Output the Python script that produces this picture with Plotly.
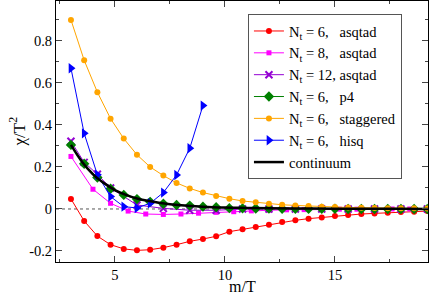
import plotly.graph_objects as go

# ---- data ----
x_nt6 = [3.0, 3.6, 4.2, 4.8, 5.4, 6.0, 6.6, 7.2, 7.8, 8.4, 9.0, 9.6, 10.2, 10.8, 11.4, 12.0,
         12.6, 13.2, 13.8, 14.4, 15.0, 15.6, 16.2, 16.8, 17.4, 18.0, 18.6, 19.2]
y_asqtad6 = [0.048, -0.057, -0.129, -0.170, -0.190, -0.197, -0.194, -0.184, -0.170, -0.154,
             -0.143, -0.130, -0.108, -0.097, -0.086, -0.075, -0.062, -0.054, -0.046, -0.040,
             -0.033, -0.029, -0.024, -0.021, -0.018, -0.014, -0.013, -0.010]

x_nt8 = [3.0, 4.0, 4.8, 5.6, 6.4, 7.2, 8.0, 8.8, 9.6, 10.4, 11.2, 12.0, 12.8, 13.6, 14.4,
         15.2, 16.0, 16.8, 17.6, 18.4, 19.2]
y_asqtad8 = [0.250, 0.094, 0.027, -0.010, -0.024, -0.026, -0.024, -0.020, -0.016, -0.013,
             -0.009, -0.006, -0.004, -0.003, -0.002, -0.001, -0.001, 0.000, 0.000, 0.000, 0.000]

x_nt12 = [3.0, 3.6, 4.2, 4.8, 6.0, 7.2, 8.4, 9.6, 10.8, 12.0, 13.2, 14.4, 15.6, 16.8, 18.0, 19.2]
y_asqtad12 = [0.322, 0.222, 0.165, 0.100, 0.019, 0.003, -0.006, -0.006, 0.000, 0.000, 0.000,
              0.000, 0.000, 0.000, 0.000, 0.000]

y_p4 = [0.305, 0.215, 0.150, 0.096, 0.067, 0.047, 0.034, 0.025, 0.019, 0.016, 0.011, 0.008,
        0.004, 0.003, 0.002, 0.002, 0.001, 0.001, 0.001, 0.001, 0.001, 0.000, 0.000, 0.000,
        0.000, 0.000, 0.000, 0.000]

y_stag = [0.900, 0.708, 0.556, 0.430, 0.335, 0.258, 0.200, 0.159, 0.124, 0.098, 0.078, 0.062,
          0.049, 0.038, 0.032, 0.025, 0.020, 0.017, 0.014, 0.011, 0.009, 0.007, 0.006, 0.005,
          0.004, 0.003, 0.003, 0.002]

x_hisq = [3.0, 3.6, 4.2, 4.8, 5.4, 6.0, 6.6, 7.2, 7.8, 8.4, 9.0]
y_hisq = [0.670, 0.360, 0.163, 0.059, 0.011, 0.005, 0.027, 0.078, 0.162, 0.289, 0.492]

x_cont = [3.0, 3.5, 4.0, 4.5, 5.0, 5.5, 6.0, 6.5, 7.0, 7.5, 8.0, 9.0, 10.0, 11.0, 12.0, 14.0,
          16.0, 18.0, 19.3]
y_cont = [0.305, 0.225, 0.165, 0.123, 0.090, 0.067, 0.050, 0.039, 0.030, 0.023, 0.018, 0.011,
          0.007, 0.005, 0.003, 0.002, 0.001, 0.0005, 0.0003]

x_ticks = [5, 10, 15]
y_ticks = [-0.2, 0, 0.2, 0.4, 0.6, 0.8]
y_ticktext = ["-0.2", "0", "0.2", "0.4", "0.6", "0.8"]

x_title = "m/T"
y_title = "χ/T<sup>2</sup>"

NB = "\u00a0"
names = [
    "N<sub>t</sub> = 6," + NB * 3 + "asqtad",
    "N<sub>t</sub> = 8," + NB * 3 + "asqtad",
    "N<sub>t</sub> = 12, asqtad",
    "N<sub>t</sub> = 6," + NB * 3 + "p4",
    "N<sub>t</sub> = 6," + NB * 3 + "staggered",
    "N<sub>t</sub> = 6," + NB * 3 + "hisq",
    "continuum",
]

FONT = "Liberation Serif, Times New Roman, DejaVu Serif, serif"

fig = go.Figure()

series = [
    (x_nt6, y_asqtad6, "#ff0000", dict(symbol="circle", size=6)),
    (x_nt8, y_asqtad8, "#ff00ff", dict(symbol="square", size=5)),
    (x_nt12, y_asqtad12, "#9400d3", dict(symbol="x-thin", size=7, line=dict(width=2, color="#9400d3"))),
    (x_nt6, y_p4, "#008000", dict(symbol="diamond", size=8)),
    (x_nt6, y_stag, "#ffa500", dict(symbol="circle", size=6)),
    (x_hisq, y_hisq, "#0000ff", dict(symbol="triangle-right", size=9)),
]
for (xs, ys, col, mk), nm in zip(series, names[:6]):
    m = dict(color=col)
    m.update(mk)
    fig.add_trace(go.Scatter(x=xs, y=ys, mode="lines+markers", name=nm,
                             line=dict(color=col, width=1), marker=m))

fig.add_trace(go.Scatter(x=x_cont, y=y_cont, mode="lines", name=names[6],
                         line=dict(color="black", width=2.5, shape="spline")))

fig.add_shape(type="line", xref="paper", yref="y", x0=0, x1=1, y0=0, y1=0,
              line=dict(color="#555555", width=1, dash="3px,3px"), layer="below")

fig.add_annotation(text=x_title, xref="paper", yref="paper", x=0.5, y=-0.094,
                   xanchor="center", yanchor="middle", showarrow=False,
                   font=dict(family=FONT, size=16))
fig.add_annotation(text=y_title, xref="paper", yref="paper", x=-0.105, y=0.5,
                   xanchor="center", yanchor="middle", showarrow=False, textangle=-90,
                   font=dict(family=FONT, size=17))

fig.update_layout(
    width=431, height=293,
    margin=dict(l=56, r=3, t=1, b=31, autoexpand=False),
    paper_bgcolor="white", plot_bgcolor="white",
    font=dict(family=FONT, size=15, color="black"),
    showlegend=True,
    legend=dict(x=0.516, y=0.95, xanchor="left", yanchor="top",
                bordercolor="#555555", borderwidth=1, bgcolor="white",
                font=dict(family=FONT, size=14.5), tracegroupgap=0,
                itemwidth=30),
    xaxis=dict(range=[2.32, 19.23], tickvals=x_ticks, ticks="inside", ticklen=6,
               showline=True, linecolor="black", linewidth=1, mirror="allticks",
               showgrid=False, zeroline=False, automargin=False,
               tickfont=dict(family=FONT, size=14.5),
               minor=dict(ticks="inside", ticklen=3, dtick=2.5, tick0=0)),
    yaxis=dict(range=[-0.2524, 0.99], tickvals=y_ticks, ticktext=y_ticktext,
               ticks="inside", ticklen=6,
               showline=True, linecolor="black", linewidth=1, mirror="allticks",
               showgrid=False, zeroline=False, automargin=False,
               tickfont=dict(family=FONT, size=14.5),
               minor=dict(ticks="inside", ticklen=3, dtick=0.1, tick0=0)),
)

fig.write_html("out.html", config={"displayModeBar": False},
               post_script="document.body.style.margin='0';document.body.style.padding='0';")
